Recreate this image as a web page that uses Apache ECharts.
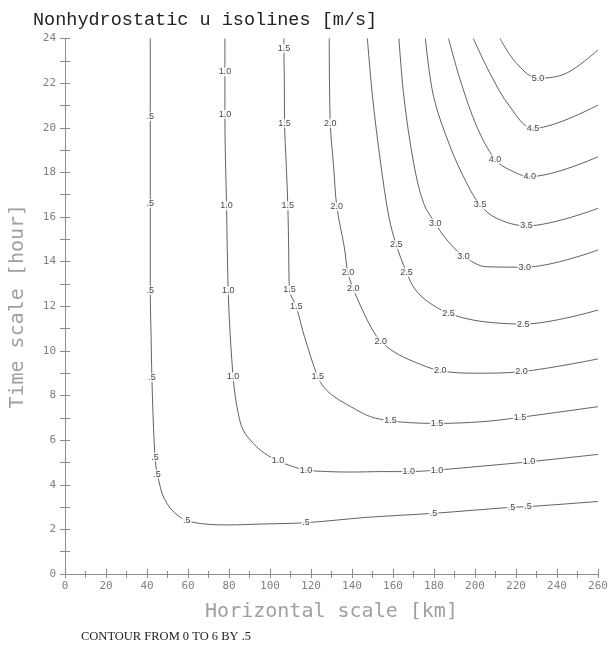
<!DOCTYPE html>
<html>
<head>
<meta charset="utf-8">
<script src="https://cdn.jsdelivr.net/npm/echarts@6/dist/echarts.min.js"></script>
<style>
  html, body { margin: 0; padding: 0; background: #fff; }
  #chart { width: 613px; height: 651px; }
</style>
</head>
<body>
<div id="chart"></div>
<script>
// Contour levels of u [m/s]
const levels = [0.5, 1.0, 1.5, 2.0, 2.5, 3.0, 3.5, 4.0, 4.5, 5.0];

// Isoline paths: [horizontal scale km, time scale hour]
const iso05 = [[41.6,24],[41.6,20.5],[41.6,16.6],[41.6,12.7],[42.0,10.6],[42.4,8.8],[43.0,7.0],[43.9,5.24],[44.9,4.48],[45.7,4.21],[47.3,3.62],[49.7,3.17],[52.1,2.87],[55.4,2.6],[59.4,2.39],[68.3,2.24],[79.6,2.2],[95.8,2.24],[117.6,2.3],[147.5,2.54],[179.8,2.72],[217.8,2.99],[225.9,3.02],[260,3.25]];
const iso10 = [[78,24],[78,22.5],[78,20.6],[78.8,16.5],[79.6,12.7],[80.6,10.7],[82,8.84],[83.0,8.0],[84.5,7.2],[86.9,6.45],[91.8,5.86],[97.4,5.41],[103.9,5.07],[110.3,4.84],[117.6,4.66],[128.1,4.59],[139.4,4.57],[155.6,4.59],[167.7,4.59],[181.5,4.66],[204.1,4.84],[226.4,5.03],[260,5.36]];
const iso15 = [[106.8,24],[106.8,23.56],[107.0,22.0],[107.1,20.2],[107.9,18.4],[108.7,16.5],[109.1,14.6],[109.5,12.73],[112.8,11.98],[116.8,10.64],[123.3,8.84],[126.5,8.35],[131.3,7.95],[139.4,7.5],[149.1,7.05],[158.8,6.87],[168.5,6.78],[181.5,6.75],[204.1,6.83],[221.9,7.02],[260,7.5]];
const iso20 = [[128.9,24],[129.4,20.2],[131.0,18.3],[132.6,16.46],[136.2,14.67],[138.0,13.5],[140.6,12.78],[145.1,11.83],[150,10.94],[154,10.44],[160.4,9.96],[170.1,9.52],[183.1,9.11],[200.9,9.0],[222.7,9.07],[260,9.64]];
const iso25 = [[147.5,24],[150,21.4],[154,18.4],[158,16.0],[161.6,14.75],[166.6,13.52],[171,12.73],[178.2,12.13],[187.1,11.69],[199.2,11.38],[212.2,11.24],[223.5,11.2],[260,11.83]];
const iso30 = [[162.9,24],[165.3,21.4],[170.1,18.4],[175,16.6],[180.6,15.72],[186.3,14.97],[194.4,14.25],[205.7,13.77],[224.3,13.75],[260,14.52]];
const iso35 = [[175.8,24],[179.8,21.4],[187.9,19.15],[196,17.51],[202.5,16.54],[210.6,15.94],[225.1,15.6],[260,16.39]];
const iso40 = [[187.1,24],[192.8,22.14],[200.9,20.05],[209.7,18.59],[217,18.11],[226.7,17.81],[260,18.7]];
const iso45 = [[199.2,24],[207.3,22.44],[217,20.95],[228.3,19.97],[260,21.02]];
const iso50 = [[212.2,24],[220.3,22.88],[230.7,22.22],[244.5,22.44],[260,23.49]];

// Where each isoline carries its value label
const lab05 = [[41.6,20.5],[41.6,16.6],[41.6,12.7],[42.4,8.8],[43.9,5.24],[44.9,4.48],[59.4,2.39],[117.6,2.3],[179.8,2.72],[217.8,2.99],[225.9,3.02]];
const lab10 = [[78,22.5],[78,20.6],[78.8,16.5],[79.6,12.7],[82,8.84],[103.9,5.07],[117.6,4.66],[167.7,4.59],[181.5,4.66],[226.4,5.03]];
const lab15 = [[106.8,23.56],[107.1,20.2],[108.7,16.5],[109.5,12.73],[112.8,11.98],[123.3,8.84],[158.8,6.87],[181.5,6.75],[221.9,7.02]];
const lab20 = [[129.4,20.2],[132.6,16.46],[138.0,13.5],[140.6,12.78],[154,10.44],[183.1,9.11],[222.7,9.07]];
const lab25 = [[161.6,14.75],[166.6,13.52],[187.1,11.69],[223.5,11.2]];
const lab30 = [[180.6,15.72],[194.4,14.25],[224.3,13.75]];
const lab35 = [[202.5,16.54],[225.1,15.6]];
const lab40 = [[209.7,18.59],[226.7,17.81]];
const lab45 = [[228.3,19.97]];
const lab50 = [[230.7,22.22]];

const isolines = [iso05, iso10, iso15, iso20, iso25, iso30, iso35, iso40, iso45, iso50];
const labelSpots = [lab05, lab10, lab15, lab20, lab25, lab30, lab35, lab40, lab45, lab50];

const axisGray = '#8c8c8c';
const fmtLevel = v => (v < 1 ? String(v).replace(/^0/, '') : v.toFixed(1));

const series = [];
levels.forEach((lv, i) => {
  series.push({
    type: 'line',
    data: isolines[i],
    smooth: 0.35,
    symbol: 'none',
    silent: true,
    lineStyle: { color: '#3a3a3a', width: 0.8 },
    z: 2
  });
  series.push({
    type: 'scatter',
    data: labelSpots[i],
    symbolSize: 0,
    silent: true,
    label: {
      show: true,
      position: 'inside',
      formatter: () => fmtLevel(lv),
      fontFamily: 'Liberation Sans',
      fontSize: 9,
      color: '#111',
      backgroundColor: '#fff',
      padding: [0, 1]
    },
    z: 3
  });
});

const chart = echarts.init(document.getElementById('chart'), null, { renderer: 'canvas' });
chart.setOption({
  animation: false,
  backgroundColor: '#fff',
  title: [
    {
      text: 'Nonhydrostatic u isolines [m/s]',
      left: 28, top: 6,
      textStyle: { fontFamily: 'Liberation Mono', fontSize: 18.5, fontWeight: 'normal', color: '#222' }
    },
    {
      text: 'CONTOUR FROM 0 TO 6 BY .5',
      left: 76, top: 625,
      textStyle: { fontFamily: 'Liberation Serif', fontSize: 12.5, fontWeight: 'normal', color: '#222' }
    }
  ],
  grid: { left: 62.5, right: 15, top: 38.5, bottom: 77, containLabel: false },
  xAxis: [
    {
      type: 'value', min: 0, max: 260, interval: 20, position: 'bottom',
      axisLine: { lineStyle: { color: axisGray, width: 1 } },
      axisTick: { inside: true, length: 5, lineStyle: { color: axisGray } },
      minorTick: { show: true, splitNumber: 2, length: 3, lineStyle: { color: axisGray } },
      splitLine: { show: false },
      axisLabel: { margin: 7, fontFamily: 'DejaVu Sans Mono', fontSize: 11, color: '#808080' },
      name: 'Horizontal scale [km]', nameLocation: 'middle', nameGap: 28,
      nameTextStyle: { fontFamily: 'DejaVu Sans Mono', fontSize: 20, color: '#a0a0a0' }
    },
    {
      type: 'value', min: 0, max: 260, interval: 10, position: 'top',
      axisLine: { lineStyle: { color: axisGray, width: 1 } },
      axisTick: { inside: true, length: 4, lineStyle: { color: axisGray } },
      axisLabel: { show: false },
      splitLine: { show: false }
    }
  ],
  yAxis: [
    {
      type: 'value', min: 0, max: 24, interval: 2, position: 'left',
      axisLine: { lineStyle: { color: axisGray, width: 1 } },
      axisTick: { inside: true, length: 5, lineStyle: { color: axisGray } },
      minorTick: { show: true, splitNumber: 2, length: 5, lineStyle: { color: axisGray } },
      splitLine: { show: false },
      axisLabel: { margin: 9, fontFamily: 'DejaVu Sans Mono', fontSize: 11, color: '#808080' },
      name: 'Time scale [hour]', nameLocation: 'middle', nameGap: 37, nameRotate: 90,
      nameTextStyle: { fontFamily: 'DejaVu Sans Mono', fontSize: 20, color: '#a0a0a0' }
    },
    {
      type: 'value', min: 0, max: 24, interval: 1, position: 'right',
      axisLine: { lineStyle: { color: axisGray, width: 1 } },
      axisTick: { inside: true, length: 5, lineStyle: { color: axisGray } },
      axisLabel: { show: false },
      splitLine: { show: false }
    }
  ],
  series: series
});
</script>
</body>
</html>
